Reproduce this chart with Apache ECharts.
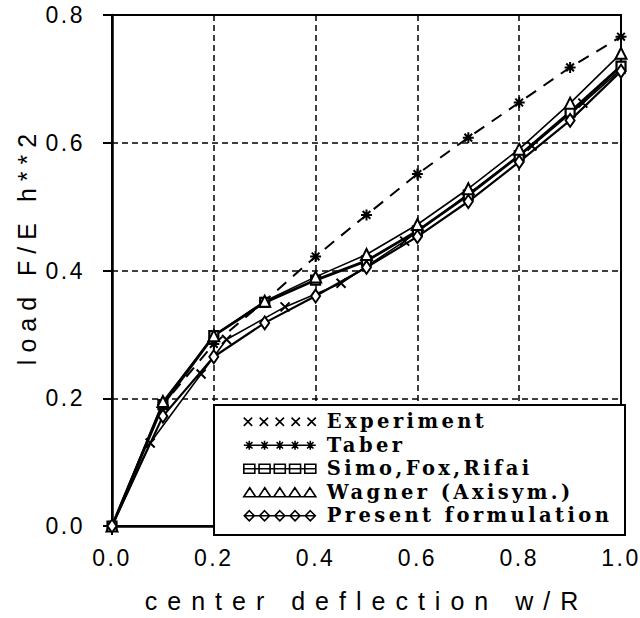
<!DOCTYPE html>
<html><head><meta charset="utf-8">
<script src="https://cdn.jsdelivr.net/npm/echarts@6/dist/echarts.min.js"></script>
<style>
html,body{margin:0;padding:0;background:#fff;}
#chart{width:640px;height:618px;}
#chart text[style*="Helvetica"]{letter-spacing:2.5px;}
#chart text[style*="Arimo"]{letter-spacing:10px;}
#chart text[style*="FreeSans"]{letter-spacing:7px;}
#chart text[style*="DejaVu Serif"]{letter-spacing:3.4px;}
</style></head><body><div id="chart"></div>
<script>
// ---- data ----
const xTicks = [0.0, 0.2, 0.4, 0.6, 0.8, 1.0];
const yTicks = [0.0, 0.2, 0.4, 0.6, 0.8];
const xTitle = 'center deflection w/R';
const yTitle = 'load F/E h**2';
const seriesNames = ['Experiment', 'Taber', 'Simo,Fox,Rifai', 'Wagner (Axisym.)', 'Present formulation'];
const experimentX = [0.0, 0.075, 0.175, 0.225, 0.34, 0.45, 0.575, 0.70, 0.825, 0.925, 1.0];
const experimentY = [0.0, 0.13, 0.238, 0.292, 0.343, 0.38, 0.446, 0.52, 0.595, 0.662, 0.715];
const modelX = [0.0, 0.1, 0.2, 0.3, 0.4, 0.5, 0.6, 0.7, 0.8, 0.9, 1.0];
const taberY = [0.0, 0.19, 0.285, 0.352, 0.422, 0.487, 0.551, 0.608, 0.663, 0.718, 0.766];
const simoY = [0.0, 0.19, 0.298, 0.35, 0.385, 0.415, 0.462, 0.518, 0.58, 0.648, 0.72];
const wagnerY = [0.0, 0.195, 0.298, 0.352, 0.39, 0.425, 0.472, 0.528, 0.59, 0.662, 0.74];
const presentY = [0.0, 0.172, 0.265, 0.318, 0.36, 0.405, 0.453, 0.508, 0.57, 0.635, 0.712];

// ---- symbols ----
const xSym = 'path://M0,0L10,10M10,0L0,10';
const starSym = 'path://M5,0L5,10M0,5L10,5M1.5,1.5L8.5,8.5M8.5,1.5L1.5,8.5';
const cs = [5.5, 20.75, 36, 51.25, 66.5];
const legX = 'path://' + cs.map(c => `M${c-4},1L${c+4},9M${c+4},1L${c-4},9`).join('');
const legStar = 'path://M0,5L72,5' + cs.map(c => `M${c},0.5L${c},9.5M${c-4.5},5L${c+4.5},5M${c-3.2},1.8L${c+3.2},8.2M${c+3.2},1.8L${c-3.2},8.2`).join('');
const legRect = 'path://M0,5L72,5' + cs.map(c => `M${c-5.5},0.5L${c+5.5},0.5L${c+5.5},9.5L${c-5.5},9.5Z`).join('');
const legTri = 'path://M0,9.5L72,9.5' + cs.map(c => `M${c-6},9.5L${c},0.5L${c+6},9.5Z`).join('');
const legDia = 'path://M0,5L72,5' + cs.map(c => `M${c},0L${c+5},5L${c},10L${c-5},5Z`).join('');

const chart = echarts.init(document.getElementById('chart'), null, {renderer: 'svg'});
const black = '#000';
const tickFont = 'Liberation Sans, Helvetica';
function mk(name, xs, ys, symbol, size, lw, lineType, bw) {
  return {
    name, type: 'line', data: xs.map((x, i) => [x, ys[i]]),
    symbol, symbolSize: size, showSymbol: true,
    lineStyle: {color: black, width: lw, type: lineType},
    itemStyle: {color: '#fff', borderColor: black, borderWidth: bw},
    emphasis: {disabled: true}, z: 2
  };
}
chart.setOption({
  animation: false,
  backgroundColor: '#fff',
  grid: {left: 112, right: 15, top: 15, bottom: 83, show: true, borderColor: black, borderWidth: 2, backgroundColor: 'transparent'},
  xAxis: {
    type: 'value', min: xTicks[0], max: xTicks[xTicks.length - 1], interval: xTicks[1] - xTicks[0],
    axisLine: {show: true, lineStyle: {color: black, width: 2.5}},
    axisTick: {show: true, inside: false, length: 9, lineStyle: {color: black, width: 2}},
    axisLabel: {color: black, fontSize: 23, fontFamily: tickFont, margin: 20, formatter: v => v.toFixed(1)},
    splitLine: {show: true, lineStyle: {color: black, width: 1.5, type: [6, 4]}},
    name: xTitle, nameLocation: 'middle', nameGap: 62,
    nameTextStyle: {color: black, fontSize: 25, fontFamily: 'Liberation Sans, Arimo'}
  },
  yAxis: {
    type: 'value', min: yTicks[0], max: yTicks[yTicks.length - 1], interval: yTicks[1] - yTicks[0],
    axisLine: {show: true, lineStyle: {color: black, width: 2.5}},
    axisTick: {show: true, inside: false, length: 9, lineStyle: {color: black, width: 2}},
    axisLabel: {color: black, fontSize: 23, fontFamily: tickFont, margin: 27, formatter: v => v.toFixed(1)},
    splitLine: {show: true, lineStyle: {color: black, width: 1.5, type: [6, 4]}}
  },
  graphic: [
    {type: 'rect', shape: {x: 214, y: 405, width: 411, height: 130}, style: {fill: '#fff', stroke: black, lineWidth: 2}, z: 3, silent: true},
    {type: 'text', x: 27, y: 246, rotation: Math.PI / 2, z: 3, silent: true,
     style: {text: yTitle, fill: black, font: '25px Liberation Sans, FreeSans', textAlign: 'center', textVerticalAlign: 'middle'}}
  ],
  legend: {
    show: true, orient: 'vertical', left: 243, top: 410, padding: 0, itemGap: 0,
    itemWidth: 72, itemHeight: 10, selectedMode: false, z: 5,
    itemStyle: {color: '#fff', borderColor: black, borderWidth: 1.6},
    textStyle: {color: black, fontFamily: 'DejaVu Serif', fontWeight: 'bold', fontSize: 19.5, lineHeight: 23.5, padding: [0, 0, 0, 6]},
    data: [
      {name: seriesNames[0], icon: legX},
      {name: seriesNames[1], icon: legStar},
      {name: seriesNames[2], icon: legRect},
      {name: seriesNames[3], icon: legTri},
      {name: seriesNames[4], icon: legDia}
    ]
  },
  series: [
    mk(seriesNames[0], experimentX, experimentY, xSym, 9, 1.6, 'solid', 2),
    mk(seriesNames[1], modelX, taberY, starSym, 11, 2, [12, 9], 2),
    mk(seriesNames[2], modelX, simoY, 'rect', 9, 2.8, 'solid', 2.2),
    mk(seriesNames[3], modelX, wagnerY, 'triangle', 11, 1.6, 'solid', 2),
    mk(seriesNames[4], modelX, presentY, 'diamond', [9, 13], 2.2, 'solid', 2)
  ]
});
</script></body></html>
